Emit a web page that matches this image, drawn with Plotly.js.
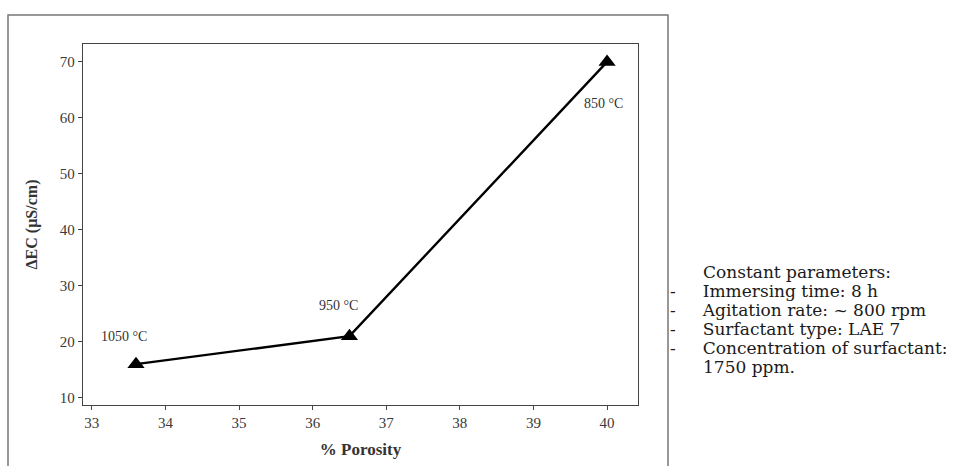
<!DOCTYPE html>
<html>
<head>
<meta charset="utf-8">
<script src="https://cdn.plot.ly/plotly-3.0.1.min.js"></script>
<style>html,body{margin:0;padding:0;background:#fff;}#chart{width:954px;height:466px;}</style>
</head>
<body>
<div id="chart"></div>
<script>
// Data
const porosity = [33.6, 36.5, 40.0];
const deltaEC = [16.0, 21.0, 70.0];
const tempLabels = ["1050 °C", "950 °C", "850 °C"];
const xTicks = [33, 34, 35, 36, 37, 38, 39, 40];
const yTicks = [10, 20, 30, 40, 50, 60, 70];
const noteTitle = "Constant parameters:";
const noteItems = ["Immersing time: 8 h", "Agitation rate: ~ 800 rpm", "Surfactant type: LAE 7", "Concentration of surfactant:"];
const noteTail = "1750 ppm.";

const W = 954, H = 466;
const L = 83, R = 316, T = 44, B = 61;
const pw = W - L - R, ph = H - T - B;
const px = v => (v - L) / pw;          // pixel x -> paper
const py = v => (H - B - v) / ph;      // pixel y -> paper

const SERIF = 'Liberation Serif, Times New Roman, Times, serif';

const labelShift = [[-12, 28], [-11, 31], [-4, -42]];
const annotations = tempLabels.map((t, i) => ({
  x: porosity[i], y: deltaEC[i], xref: 'x', yref: 'y', text: t, showarrow: false,
  xshift: labelShift[i][0], yshift: labelShift[i][1],
  font: {family: SERIF, size: 14, color: '#333'}
}));

const noteFont = {family: 'DejaVu Serif', size: 17, color: '#1a1a1a'};
const gap = '&nbsp;&nbsp;&nbsp;&nbsp;&nbsp;';
annotations.push({x: px(701), y: py(272), xref: 'paper', yref: 'paper', xanchor: 'left', yanchor: 'middle',
  text: noteTitle, showarrow: false, font: noteFont});
noteItems.forEach((s, i) => {
  annotations.push({x: px(668), y: py(291 + 19 * i), xref: 'paper', yref: 'paper', xanchor: 'left', yanchor: 'middle',
    text: '-' + gap + s, showarrow: false, font: noteFont});
});
annotations.push({x: px(701), y: py(291 + 19 * 4), xref: 'paper', yref: 'paper', xanchor: 'left', yanchor: 'middle',
  text: noteTail, showarrow: false, font: noteFont});

const trace = {
  x: porosity, y: deltaEC, type: 'scatter', mode: 'lines+markers',
  line: {color: '#000', width: 2.4},
  marker: {symbol: 'triangle-up', size: 15, color: '#000'},
  hoverinfo: 'skip'
};

const axisCommon = {
  showgrid: false, zeroline: false, showline: true, mirror: true,
  linecolor: '#444', linewidth: 1.2, ticks: 'outside', ticklen: 4, tickcolor: '#444',
  tickfont: {family: SERIF, size: 15, color: '#3a3a3a'}
};

const layout = {
  width: W, height: H,
  margin: {l: L, r: R, t: T, b: B},
  paper_bgcolor: '#fff', plot_bgcolor: '#fff',
  showlegend: false,
  xaxis: Object.assign({}, axisCommon, {
    range: [32.88, 40.42], tickvals: xTicks, ticktext: xTicks.map(String),
    title: {text: '<b>% Porosity</b>', standoff: 12, font: {family: SERIF, size: 17, color: '#333'}}
  }),
  yaxis: Object.assign({}, axisCommon, {
    range: [8.7, 73.2], tickvals: yTicks, ticktext: yTicks.map(String),
    title: {text: '<b>ΔEC (µS/cm)</b>', standoff: 18, font: {family: SERIF, size: 16, color: '#333'}}
  }),
  annotations: annotations,
  shapes: [{
    type: 'rect', xref: 'paper', yref: 'paper',
    x0: px(8), x1: px(668), y0: py(475), y1: py(15),
    line: {color: '#777', width: 1.5}, fillcolor: 'rgba(0,0,0,0)', layer: 'below'
  }]
};

Plotly.newPlot('chart', [trace], layout, {displayModeBar: false, staticPlot: true});
</script>
</body>
</html>
